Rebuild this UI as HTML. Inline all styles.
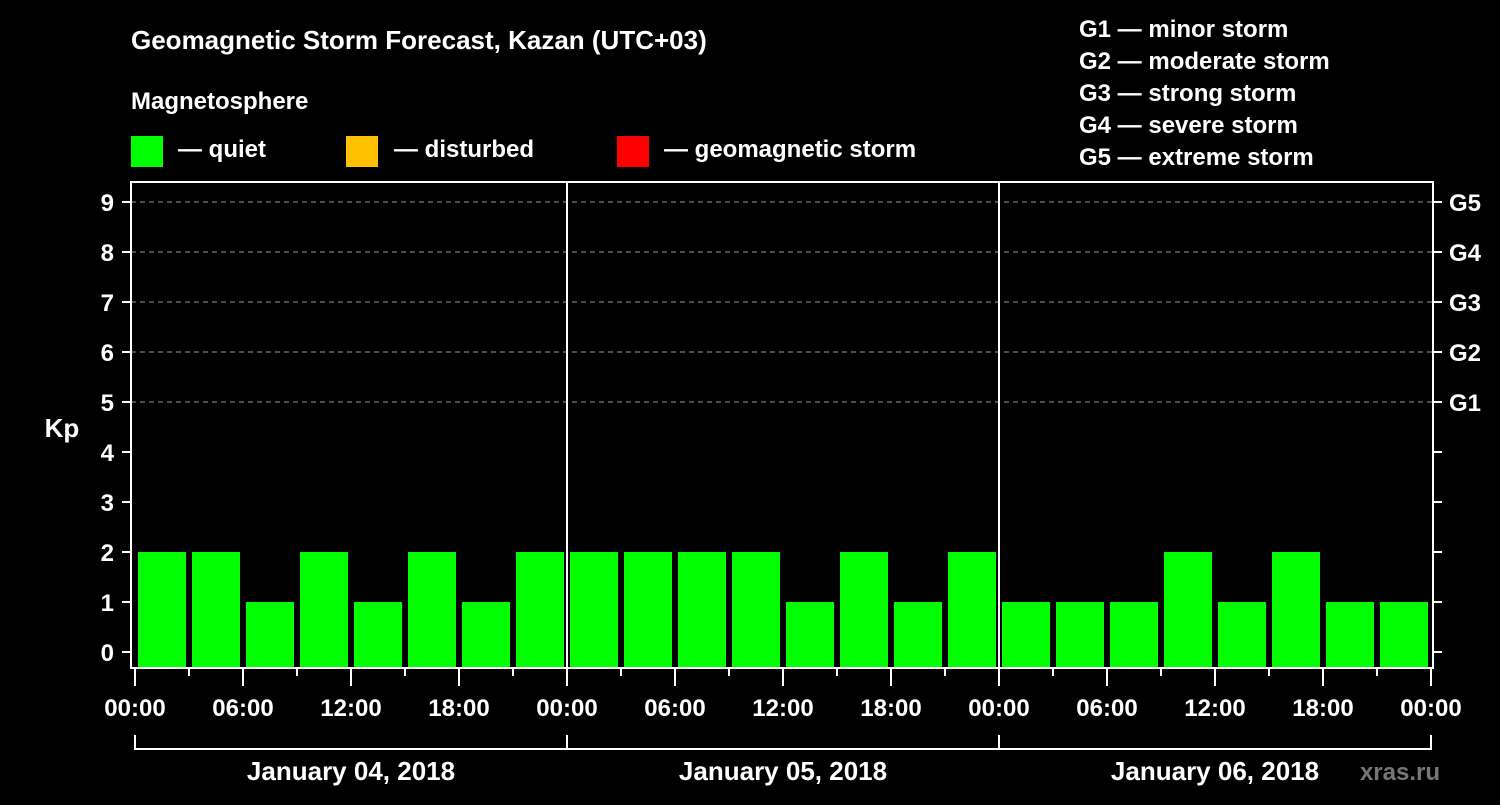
<!DOCTYPE html>
<html><head><meta charset="utf-8"><style>
body{margin:0;background:#000;width:1500px;height:800px;overflow:hidden}
svg text{font-family:"Liberation Sans",sans-serif;font-weight:bold;fill:#fff}
</style></head><body>
<svg id="c" width="1500" height="800" xmlns="http://www.w3.org/2000/svg">
<text x="131" y="49" font-size="26">Geomagnetic Storm Forecast, Kazan (UTC+03)</text>
<text x="131" y="109" font-size="24">Magnetosphere</text>
<rect x="131" y="136" width="32" height="31" fill="#00ff00"/>
<text x="178" y="157" font-size="24">— quiet</text>
<rect x="346" y="136" width="32" height="31" fill="#ffc000"/>
<text x="394" y="157" font-size="24">— disturbed</text>
<rect x="617" y="136" width="32" height="31" fill="#ff0000"/>
<text x="664" y="157" font-size="24">— geomagnetic storm</text>
<g font-size="24">
<text x="1079" y="37">G1 — minor storm</text>
<text x="1079" y="69">G2 — moderate storm</text>
<text x="1079" y="101">G3 — strong storm</text>
<text x="1079" y="133">G4 — severe storm</text>
<text x="1079" y="165">G5 — extreme storm</text>
</g>
<text x="62" y="437" font-size="26" text-anchor="middle">Kp</text>
<text x="1440" y="780" font-size="24" text-anchor="end" fill="#777" style="fill:#777">xras.ru</text>
<g id="g"></g>
</svg>
<script>
const kpValues=[2,2,1,2,1,2,1,2, 2,2,2,2,1,2,1,2, 1,1,1,2,1,2,1,1];
const dayLabels=["January 04, 2018","January 05, 2018","January 06, 2018"];
const hourLabels=["00:00","06:00","12:00","18:00"];
const gLabels=["G1","G2","G3","G4","G5"];
const NS="http://www.w3.org/2000/svg";
const g=document.getElementById('g');
const X0=135,DAYW=432,SLOT=54;
const xs=i=>X0+SLOT*i;
const ys=v=>652-50*v;
function mk(t,a){const e=document.createElementNS(NS,t);for(const k in a)e.setAttribute(k,a[k]);g.appendChild(e);return e;}
for(let v=5;v<=9;v++){
 const l=mk('line',{x1:131,x2:1433,y1:ys(v),y2:ys(v),stroke:'#999','stroke-dasharray':'5,4','stroke-width':1});
 
 
}
kpValues.forEach((v,i)=>{
 const c=v>=5?'#ff0000':(v>=4?'#ffc000':'#00ff00');
 const r=mk('rect',{x:xs(i)+3,y:ys(v),width:SLOT-6,height:ys(-0.3)-ys(v),fill:c});
 
 
});
for(let d=1;d<dayLabels.length;d++){
 const l=mk('line',{x1:X0+DAYW*d,x2:X0+DAYW*d,y1:182,y2:668,stroke:'#fff','stroke-width':2});
 
 
}
const f=mk('rect',{x:131,y:182,width:1302,height:486,fill:'none',stroke:'#fff','stroke-width':2});


for(let v=0;v<=9;v++){
 mk('line',{x1:122,x2:131,y1:ys(v),y2:ys(v),stroke:'#fff','stroke-width':2});
 mk('line',{x1:1433,x2:1442,y1:ys(v),y2:ys(v),stroke:'#fff','stroke-width':2});
 const t=mk('text',{x:114,y:ys(v)+9,'font-size':24,'text-anchor':'end'});t.textContent=v;
 
 
}
gLabels.forEach((s,i)=>{
 const t=mk('text',{x:1449,y:ys(5+i)+9,'font-size':24});t.textContent=s;
 
 
});
for(let i=0;i<=kpValues.length;i++){
 const major=i%2===0;
 mk('line',{x1:xs(i),x2:xs(i),y1:668,y2:major?686:676,stroke:'#fff','stroke-width':2});
 if(major){
  const t=mk('text',{x:xs(i),y:716,'font-size':24,'text-anchor':'middle'});
  t.textContent=hourLabels[(i/2)%4];
  
  
 }
}
mk('line',{x1:X0,x2:X0+DAYW*3,y1:749,y2:749,stroke:'#fff','stroke-width':2});
for(let d=0;d<=3;d++)mk('line',{x1:X0+DAYW*d,x2:X0+DAYW*d,y1:735,y2:750,stroke:'#fff','stroke-width':2});
dayLabels.forEach((s,d)=>{
 const t=mk('text',{x:X0+DAYW*d+DAYW/2,y:780,'font-size':26,'text-anchor':'middle'});t.textContent=s;
 
 
});
</script>
</body></html>
